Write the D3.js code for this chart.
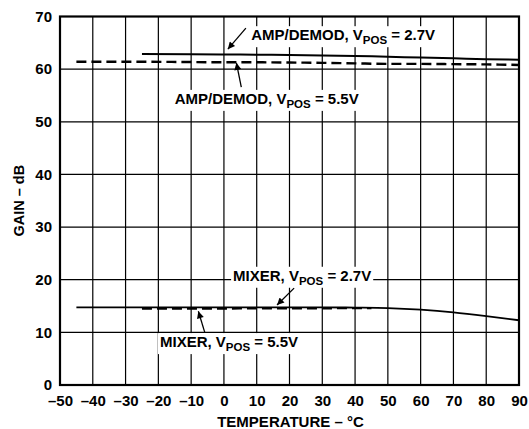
<!DOCTYPE html>
<html><head><meta charset="utf-8">
<script src="https://cdn.jsdelivr.net/npm/d3@7"></script>
<style>
body{margin:0;background:#fff;}
text{font-family:"Liberation Sans",Arial,sans-serif;font-weight:bold;fill:#000;}
</style></head><body>
<svg id="c" width="529" height="429"></svg>
<script>
const xTicks = [-50,-40,-30,-20,-10,0,10,20,30,40,50,60,70,80,90];
const yTicks = [0,10,20,30,40,50,60,70];

const ampTemp27 = [-25,-10,0,10,20,30,40,50,60,70,80,90];
const ampGain27 = [62.9,62.85,62.8,62.75,62.7,62.6,62.5,62.35,62.2,62.05,61.9,61.8];
const ampTemp55 = [-45,-30,-10,0,10,20,30,40,50,60,70,80,90];
const ampGain55 = [61.4,61.4,61.35,61.3,61.3,61.25,61.2,61.1,61.0,61.0,60.95,60.9,60.8];
const mixTemp27 = [-45,-30,-10,0,10,20,30,40,50,60,70,80,90];
const mixGain27 = [14.75,14.75,14.75,14.75,14.75,14.75,14.75,14.7,14.6,14.3,13.8,13.1,12.3];
const mixTemp55 = [-25,-10,0,10,20,30,45];
const mixGain55 = [14.5,14.5,14.5,14.55,14.55,14.55,14.6];

const svg = d3.select('#c');
const L=60,R=519,T=16.5,B=385;
const x = d3.scaleLinear().domain([-50,90]).range([L,R]);
const y = d3.scaleLinear().domain([0,70]).range([B,T]);

// grid
svg.append('g').selectAll('line').data(xTicks.slice(1,-1)).join('line')
  .attr('x1',d=>x(d)).attr('x2',d=>x(d)).attr('y1',T).attr('y2',B)
  .attr('stroke','#000').attr('stroke-width',1.2);
svg.append('g').selectAll('line').data(yTicks.slice(1,-1)).join('line')
  .attr('y1',d=>y(d)).attr('y2',d=>y(d)).attr('x1',L).attr('x2',R)
  .attr('stroke','#000').attr('stroke-width',1.2);

const fmt = d => d<0 ? '\u2013'+Math.abs(d) : String(d);
const xAxis = svg.append('g').attr('transform',`translate(0,${B})`)
  .call(d3.axisBottom(x).tickValues(xTicks).tickSize(0).tickPadding(10).tickFormat(fmt));
const yAxis = svg.append('g').attr('transform',`translate(${L},0)`)
  .call(d3.axisLeft(y).tickValues(yTicks).tickSize(0).tickPadding(8).tickFormat(fmt));
[xAxis,yAxis].forEach(a=>{a.select('.domain').remove();a.selectAll('text').style('font-size','15px').style('font-family','"Liberation Sans",Arial,sans-serif').style('font-weight','bold');});

svg.append('text').attr('x',(L+R)/2+1).attr('y',427).attr('text-anchor','middle')
  .style('font-size','15px').text('TEMPERATURE \u2013 \u00B0C');
svg.append('text').attr('transform',`translate(24,${(T+B)/2}) rotate(-90)`).attr('text-anchor','middle')
  .style('font-size','14.5px').text('GAIN \u2013 dB');

const line = d3.line().x(d=>x(d[0])).y(d=>y(d[1])).curve(d3.curveMonotoneX);
const zip = (a,b)=>a.map((v,i)=>[v,b[i]]);
svg.append('path').attr('d',line(zip(ampTemp55,ampGain55))).attr('fill','none').attr('stroke','#000').attr('stroke-width',2.4).attr('stroke-dasharray','10,5');
svg.append('path').attr('d',line(zip(ampTemp27,ampGain27))).attr('fill','none').attr('stroke','#000').attr('stroke-width',2);
svg.append('path').attr('d',line(zip(mixTemp55,mixGain55))).attr('fill','none').attr('stroke','#000').attr('stroke-width',2).attr('stroke-dasharray','10,5');
svg.append('path').attr('d',line(zip(mixTemp27,mixGain27))).attr('fill','none').attr('stroke','#000').attr('stroke-width',1.8);

// frame
svg.append('rect').attr('x',L).attr('y',T).attr('width',R-L).attr('height',B-T).attr('fill','none').attr('stroke','#000').attr('stroke-width',2.2);

// labels (positions in data units: temperature, gain)
const labels = [
  {main:'AMP/DEMOD, V', tail:' = 2.7V', tx:8.3, ty:65.5, from:[6.7,67.8], to:[1.2,63.8]},
  {main:'AMP/DEMOD, V', tail:' = 5.5V', tx:-15, ty:53.4, from:[5.3,56.6], to:[3.8,61.2]},
  {main:'MIXER, V', tail:' = 2.7V', tx:2.8, ty:19.8, from:[21.4,18.4], to:[16.2,15.2]},
  {main:'MIXER, V', tail:' = 5.5V', tx:-19.5, ty:7.2, from:[-5.8,9.9], to:[-7.8,14.0]},
];
const defs = svg.append('defs');
defs.append('marker').attr('id','ah').attr('viewBox','0 0 10 10').attr('refX',10).attr('refY',5)
  .attr('markerWidth',11).attr('markerHeight',7).attr('markerUnits','userSpaceOnUse').attr('orient','auto')
  .append('path').attr('d','M0,0L10,5L0,10Z').attr('fill','#000');
labels.forEach(l=>{
  const g = svg.append('g');
  const t = g.append('text').attr('x',x(l.tx)).attr('y',y(l.ty)).style('font-size','15px');
  t.append('tspan').text(l.main);
  t.append('tspan').attr('dy',4).style('font-size','11.5px').text('POS');
  t.append('tspan').attr('dy',-4).text(l.tail);
  const bb = t.node().getBBox();
  g.insert('rect','text').attr('x',bb.x-2).attr('y',bb.y).attr('width',bb.width+4).attr('height',bb.height+1).attr('fill','#fff');
  svg.append('line').attr('x1',x(l.from[0])).attr('y1',y(l.from[1])).attr('x2',x(l.to[0])).attr('y2',y(l.to[1]))
    .attr('stroke','#000').attr('stroke-width',1.3).attr('marker-end','url(#ah)');
});
</script></body></html>
